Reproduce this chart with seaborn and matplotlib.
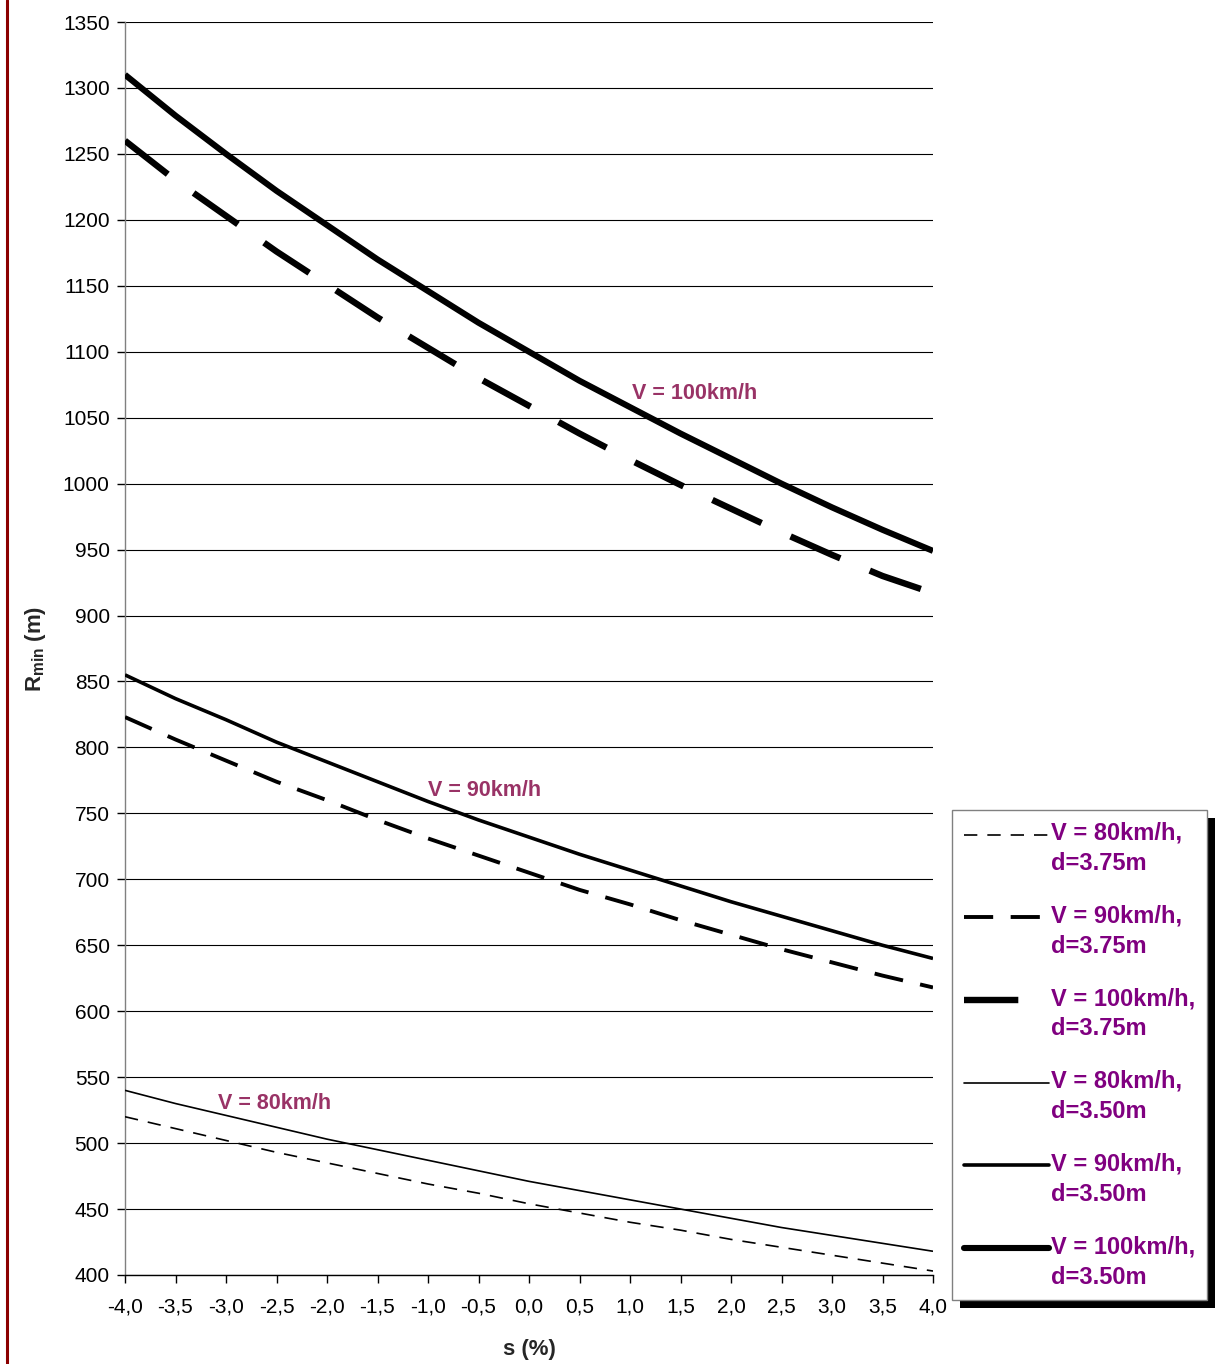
import numpy as np
import pandas as pd
import matplotlib
matplotlib.use("Agg")
import matplotlib.pyplot as plt
import seaborn as sns
from matplotlib.lines import Line2D
from matplotlib.patches import Rectangle
from matplotlib.ticker import FuncFormatter, MultipleLocator
from matplotlib.legend_handler import HandlerLine2D

# ---------------- data ----------------
s_values = [-4.0, -3.5, -3.0, -2.5, -2.0, -1.5, -1.0, -0.5, 0.0,
            0.5, 1.0, 1.5, 2.0, 2.5, 3.0, 3.5, 4.0]

r_v80_d375 = [520, 511, 502, 493, 485, 477, 469, 462, 454, 447, 440, 434, 427, 421, 415, 409, 403]
r_v90_d375 = [823, 806, 790, 774, 760, 745, 731, 718, 705, 692, 681, 669, 658, 647, 637, 627, 618]
r_v100_d375 = [1260, 1230, 1203, 1176, 1151, 1126, 1103, 1080, 1059, 1038, 1018, 999, 981, 963, 946, 930, 917]
r_v80_d350 = [540, 530, 521, 512, 503, 495, 487, 479, 471, 464, 457, 450, 443, 436, 430, 424, 418]
r_v90_d350 = [855, 837, 821, 804, 789, 774, 759, 745, 732, 719, 707, 695, 683, 672, 661, 650, 640]
r_v100_d350 = [1310, 1279, 1250, 1222, 1196, 1170, 1146, 1122, 1100, 1078, 1058, 1038, 1019, 1000, 982, 965, 949]

series_labels = ["V = 80km/h,\nd=3.75m", "V = 90km/h,\nd=3.75m", "V = 100km/h,\nd=3.75m",
                 "V = 80km/h,\nd=3.50m", "V = 90km/h,\nd=3.50m", "V = 100km/h,\nd=3.50m"]
series_values = [r_v80_d375, r_v90_d375, r_v100_d375, r_v80_d350, r_v90_d350, r_v100_d350]

annot_texts = ["V = 100km/h", "V = 90km/h", "V = 80km/h"]
annot_pos = [(1.64, 1068), (-0.44, 767), (-2.52, 530)]

# ---------------- style ----------------
sns.set_theme(style="white")
plt.rcParams['font.family'] = ['Liberation Sans', 'DejaVu Sans']
plt.rcParams['mathtext.fontset'] = 'custom'
plt.rcParams['mathtext.rm'] = 'Liberation Sans'
plt.rcParams['mathtext.bf'] = 'Liberation Sans:bold'

styles = [
    dict(lw=1.2, ls=(0, (8, 6))),
    dict(lw=2.8, ls=(0, (7.5, 4.5))),
    dict(lw=4.6, ls=(0, (8.5, 5))),
    dict(lw=1.2, ls='-'),
    dict(lw=2.6, ls='-'),
    dict(lw=4.4, ls='-'),
]

LEG_FS = 17


class UpHandler(HandlerLine2D):
    def create_artists(self, legend, orig_handle, xdescent, ydescent, width, height,
                       fontsize, trans):
        arts = super().create_artists(legend, orig_handle, xdescent, ydescent, width,
                                      height, fontsize, trans)
        for a in arts:
            if isinstance(a, Line2D):
                a.set_ydata(np.asarray(a.get_ydata(), dtype=float) + 0.62 * fontsize)
        return arts


fig = plt.figure(figsize=(12.2, 13.64), dpi=100)
ax = fig.add_axes([125/1220, 1 - 1275/1364, (933-125)/1220, (1275-22)/1364])

frames = []
for lab, vals in zip(series_labels, series_values):
    frames.append(pd.DataFrame({"s": s_values, "R": vals, "series": lab}))
df = pd.concat(frames, ignore_index=True)

handles = []
for lab, st in zip(series_labels, styles):
    sub = df[df["series"] == lab]
    sns.lineplot(data=sub, x="s", y="R", ax=ax, color="black", linewidth=st['lw'],
                 linestyle=st['ls'], solid_capstyle='butt', dash_capstyle='butt',
                 estimator=None, sort=False, legend=False, zorder=3)
    handles.append(Line2D([0], [0], color="black", lw=st['lw'], linestyle=st['ls'],
                          solid_capstyle='round' if st['ls'] == '-' else 'butt'))

ax.set_xlim(-4, 4)
ax.set_ylim(400, 1350)
ax.yaxis.set_major_locator(MultipleLocator(50))
ax.xaxis.set_major_locator(MultipleLocator(0.5))
ax.xaxis.set_major_formatter(FuncFormatter(lambda v, p: f"{v:.1f}".replace('.', ',')))
ax.grid(axis='y', color='black', lw=0.8)
ax.grid(axis='x', visible=False)
for sp in ['top', 'right']:
    ax.spines[sp].set_visible(False)
ax.spines['left'].set_color('#808080')
ax.spines['bottom'].set_color('black')
ax.spines['left'].set_linewidth(1.0)
ax.spines['bottom'].set_linewidth(1.0)
ax.tick_params(axis='both', which='major', direction='out', length=6, width=1,
               labelsize=15, colors='black', pad=5, bottom=True, left=True)
ax.tick_params(axis='x', pad=10)

ax.set_xlabel("s (%)", fontsize=16, fontweight='bold')
ax.set_ylabel(r"$\mathbf{R_{min}}$ (m)", fontsize=16, fontweight='bold')
ax.xaxis.set_label_coords(0.5, -(1350 - 1275) / 1253)
ax.xaxis.label.set_va('center')
ax.yaxis.set_label_coords(-(125 - 35) / 808, 0.5)
ax.yaxis.label.set_va('center')

for t, (x, y) in zip(annot_texts, annot_pos):
    ax.text(x, y, t, color='#993366', fontsize=15.5, fontweight='bold',
            ha='center', va='center', zorder=4)

# legend with black shadow
leg = fig.legend(handles, series_labels, loc='upper left',
                 bbox_to_anchor=(952/1220, 1 - 810/1364), bbox_transform=fig.transFigure,
                 frameon=True, fancybox=False, edgecolor='#808080', framealpha=1,
                 fontsize=LEG_FS, handlelength=3.6, handletextpad=0.1, labelspacing=1.25,
                 borderpad=0.5, borderaxespad=0,
                 handler_map={Line2D: UpHandler()})
leg.get_frame().set_linewidth(1.0)
for txt in leg.get_texts():
    txt.set_color('#800080')
    txt.set_fontweight('bold')
    txt.set_linespacing(1.4)
fig.canvas.draw()
bb = leg.get_window_extent().transformed(fig.transFigure.inverted())
shadow = Rectangle((bb.x0 + 8/1220, bb.y0 - 8/1364), bb.width, bb.height,
                   transform=fig.transFigure, facecolor='black', edgecolor='none', zorder=1)
fig.add_artist(shadow)
leg.set_zorder(5)

# dark red left border line
fig.add_artist(Line2D([7/1220, 7/1220], [0, 1], transform=fig.transFigure,
                      color='#8B0000', lw=2.2))

fig.savefig("out.png", dpi=100)
